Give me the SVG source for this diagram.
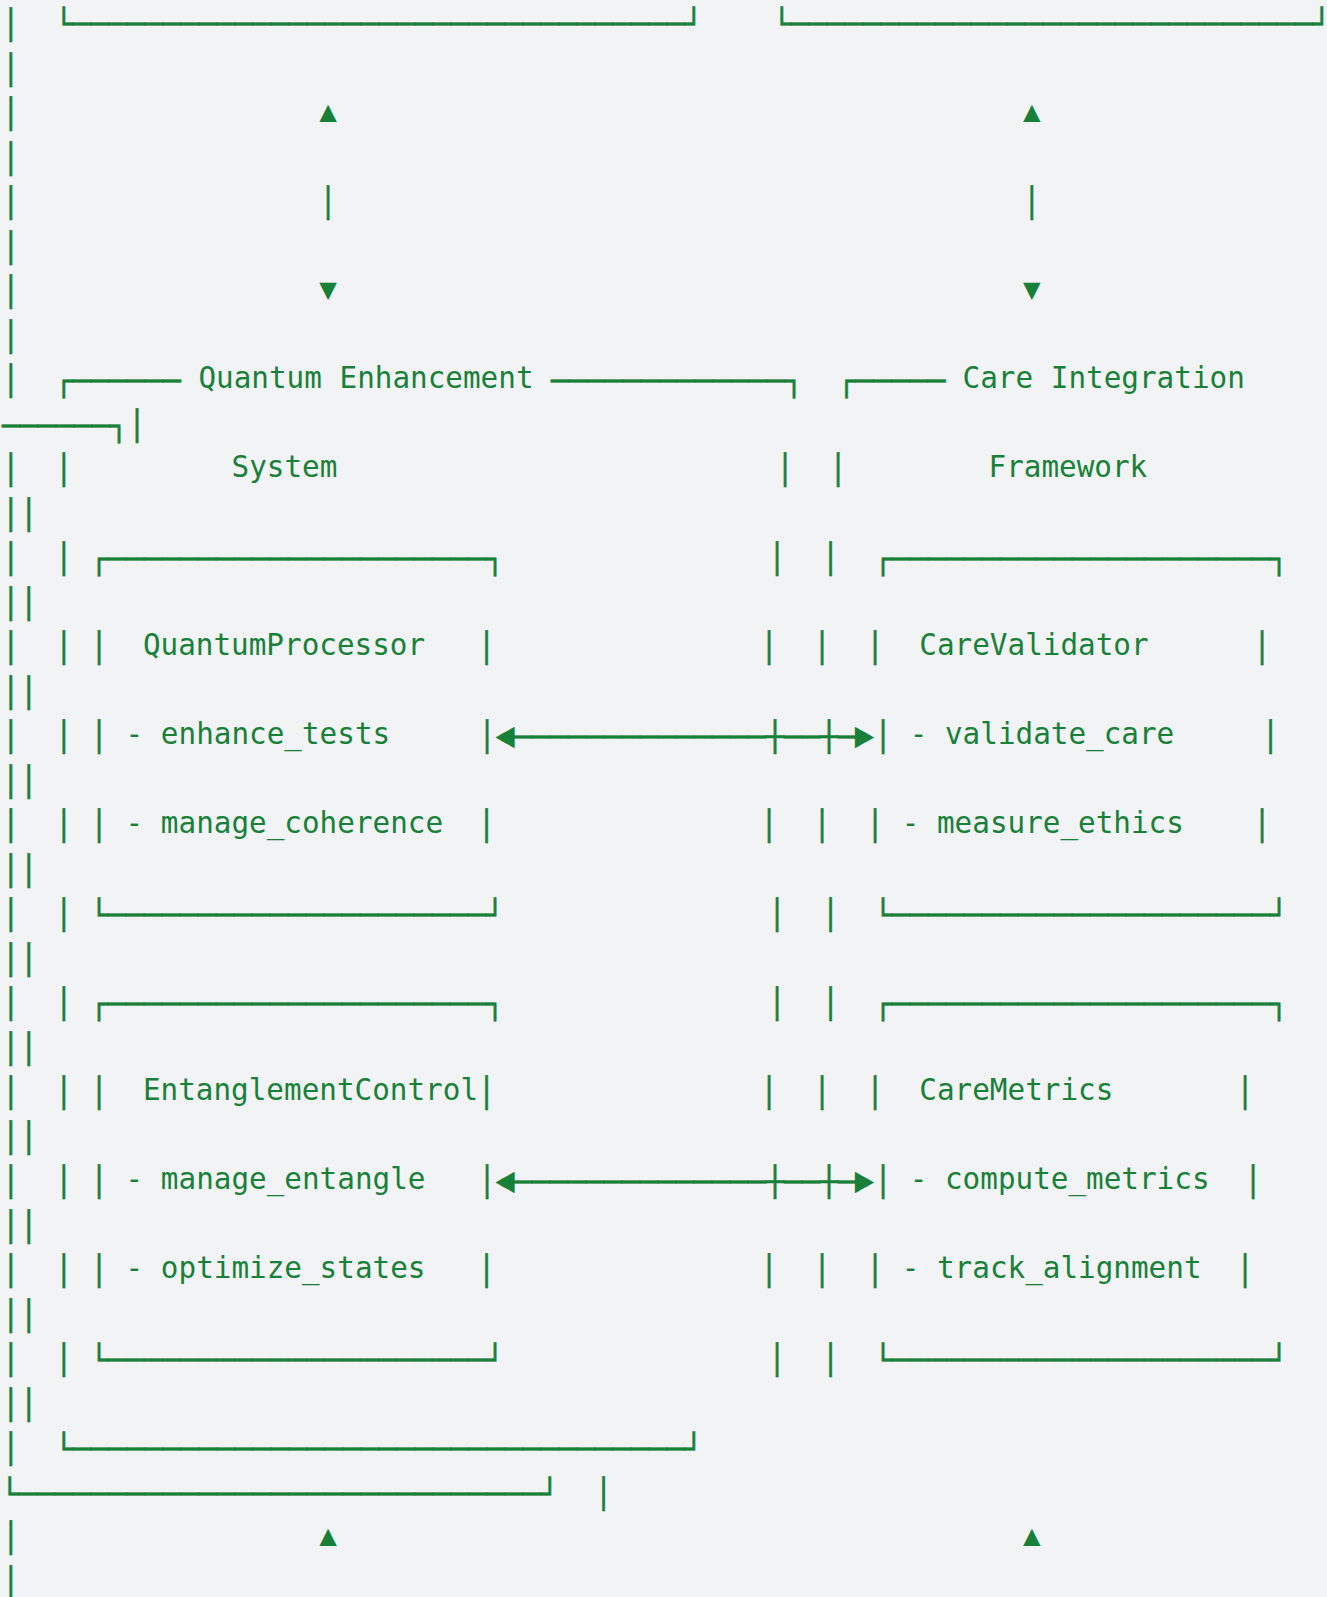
<svg xmlns="http://www.w3.org/2000/svg" width="1327" height="1597" viewBox="0 0 1327 1597">
<style>
text{font-family:"DejaVu Sans Mono","Liberation Mono",monospace;font-size:29.3px;fill:#188038;white-space:pre}
.m{text-anchor:middle}
.bx{transform:translate(0px,3px);stroke:#188038;stroke-width:0.5px}
</style>
<rect width="1327" height="1597" fill="#f1f3f4"/>
<g id="outer-frame">
<text class="m bx" x="10.7" y="76.5">│</text>
<text class="m bx" x="10.7" y="121">│</text>
<text class="m bx" x="10.7" y="165.5">│</text>
<text class="m bx" x="10.7" y="210">│</text>
<text class="m bx" x="10.7" y="254.5">│</text>
<text class="m bx" x="10.7" y="299">│</text>
<text class="m bx" x="10.7" y="343.5">│</text>
<text class="m bx" x="10.7" y="388">│</text>
<text class="m bx" x="10.7" y="477">│</text>
<text class="bx" x="1.7" y="521.5" textLength="36" lengthAdjust="spacingAndGlyphs">││</text>
<text class="m bx" x="10.7" y="566">│</text>
<text class="bx" x="1.7" y="610.5" textLength="36" lengthAdjust="spacingAndGlyphs">││</text>
<text class="m bx" x="10.7" y="655">│</text>
<text class="bx" x="1.7" y="699.5" textLength="36" lengthAdjust="spacingAndGlyphs">││</text>
<text class="m bx" x="10.7" y="744">│</text>
<text class="bx" x="1.7" y="788.5" textLength="36" lengthAdjust="spacingAndGlyphs">││</text>
<text class="m bx" x="10.7" y="833">│</text>
<text class="bx" x="1.7" y="877.5" textLength="36" lengthAdjust="spacingAndGlyphs">││</text>
<text class="m bx" x="10.7" y="922">│</text>
<text class="bx" x="1.7" y="966.5" textLength="36" lengthAdjust="spacingAndGlyphs">││</text>
<text class="m bx" x="10.7" y="1011">│</text>
<text class="bx" x="1.7" y="1055.5" textLength="36" lengthAdjust="spacingAndGlyphs">││</text>
<text class="m bx" x="10.7" y="1100">│</text>
<text class="bx" x="1.7" y="1144.5" textLength="36" lengthAdjust="spacingAndGlyphs">││</text>
<text class="m bx" x="10.7" y="1189">│</text>
<text class="bx" x="1.7" y="1233.5" textLength="36" lengthAdjust="spacingAndGlyphs">││</text>
<text class="m bx" x="10.7" y="1278">│</text>
<text class="bx" x="1.7" y="1322.5" textLength="36" lengthAdjust="spacingAndGlyphs">││</text>
<text class="m bx" x="10.7" y="1367">│</text>
<text class="bx" x="1.7" y="1411.5" textLength="36" lengthAdjust="spacingAndGlyphs">││</text>
<text class="m bx" x="10.7" y="1456">│</text>
<text class="bx" x="0.8" y="1500.5" textLength="558" lengthAdjust="spacingAndGlyphs">└─────────────────────────────┘</text>
<text class="m bx" x="603.6" y="1500.5">│</text>
<text class="m bx" x="10.7" y="1545">│</text>
<text class="m bx" x="10.7" y="1589.5">│</text>
</g>
<g id="top-left-box">
<text class="m bx" x="10.7" y="32">│</text>
<text class="bx" x="54.8" y="31" textLength="648" lengthAdjust="spacingAndGlyphs">└──────────────────────────────────┘</text>
</g>
<g id="top-right-box">
<text class="bx" x="772.7" y="31" textLength="558" lengthAdjust="spacingAndGlyphs">└─────────────────────────────┘</text>
</g>
<g id="quantum-enhancement-system">
<text class="bx" x="54.8" y="388" textLength="126" lengthAdjust="spacingAndGlyphs">┌──────</text>
<text x="198.4" y="388">Quantum Enhancement</text>
<text class="bx" x="551" y="388" textLength="252" lengthAdjust="spacingAndGlyphs">─────────────┐</text>
<text class="bx" x="2" y="432.5" textLength="144" lengthAdjust="spacingAndGlyphs">──────┐│</text>
<text class="m bx" x="63.8" y="477">│</text>
<text x="231.5" y="477">System</text>
<text class="m bx" x="785" y="477">│</text>
<text class="m bx" x="63.8" y="566">│</text>
<text class="m bx" x="777" y="566">│</text>
<text class="m bx" x="63.8" y="655">│</text>
<text class="m bx" x="769" y="655">│</text>
<text class="m bx" x="63.8" y="744">│</text>
<text class="m bx" x="63.8" y="833">│</text>
<text class="m bx" x="769" y="833">│</text>
<text class="m bx" x="63.8" y="922">│</text>
<text class="m bx" x="777" y="922">│</text>
<text class="m bx" x="63.8" y="1011">│</text>
<text class="m bx" x="777" y="1011">│</text>
<text class="m bx" x="63.8" y="1100">│</text>
<text class="m bx" x="769" y="1100">│</text>
<text class="m bx" x="63.8" y="1189">│</text>
<text class="m bx" x="63.8" y="1278">│</text>
<text class="m bx" x="769" y="1278">│</text>
<text class="m bx" x="63.8" y="1367">│</text>
<text class="m bx" x="777" y="1367">│</text>
<text class="bx" x="54.8" y="1456" textLength="648" lengthAdjust="spacingAndGlyphs">└──────────────────────────────────┘</text>
</g>
<g id="care-integration-framework">
<text class="bx" x="837.5" y="388" textLength="108" lengthAdjust="spacingAndGlyphs">┌─────</text>
<text x="962.6" y="388">Care Integration</text>
<text class="m bx" x="838" y="477">│</text>
<text x="988.5" y="477">Framework</text>
<text class="m bx" x="830.5" y="566">│</text>
<text class="m bx" x="822" y="655">│</text>
<text class="m bx" x="822" y="833">│</text>
<text class="m bx" x="830.5" y="922">│</text>
<text class="m bx" x="830.5" y="1011">│</text>
<text class="m bx" x="822" y="1100">│</text>
<text class="m bx" x="822" y="1278">│</text>
<text class="m bx" x="830.5" y="1367">│</text>
</g>
<g id="quantum-processor">
<text class="bx" x="90" y="566" textLength="414" lengthAdjust="spacingAndGlyphs">┌─────────────────────┐</text>
<text class="m bx" x="99" y="655">│</text>
<text x="142.9" y="655">QuantumProcessor</text>
<text class="m bx" x="486.6" y="655">│</text>
<text class="m bx" x="99" y="744">│</text>
<text x="125.6" y="744">- enhance_tests</text>
<text class="m bx" x="487" y="744">│</text>
<text class="m bx" x="99" y="833">│</text>
<text x="125.6" y="833">- manage_coherence</text>
<text class="m bx" x="486.6" y="833">│</text>
<text class="bx" x="90" y="922" textLength="414" lengthAdjust="spacingAndGlyphs">└─────────────────────┘</text>
</g>
<g id="entanglement-control">
<text class="bx" x="90" y="1011" textLength="414" lengthAdjust="spacingAndGlyphs">┌─────────────────────┐</text>
<text class="m bx" x="99" y="1100">│</text>
<text x="142.9" y="1100">EntanglementControl</text>
<text class="m bx" x="486.6" y="1100">│</text>
<text class="m bx" x="99" y="1189">│</text>
<text x="125.6" y="1189">- manage_entangle</text>
<text class="m bx" x="487" y="1189">│</text>
<text class="m bx" x="99" y="1278">│</text>
<text x="125.6" y="1278">- optimize_states</text>
<text class="m bx" x="486.6" y="1278">│</text>
<text class="bx" x="90" y="1367" textLength="414" lengthAdjust="spacingAndGlyphs">└─────────────────────┘</text>
</g>
<g id="care-validator">
<text class="bx" x="874" y="566" textLength="414" lengthAdjust="spacingAndGlyphs">┌─────────────────────┐</text>
<text class="m bx" x="875" y="655">│</text>
<text x="919.3" y="655">CareValidator</text>
<text class="m bx" x="1262" y="655">│</text>
<text class="m bx" x="883" y="744">│</text>
<text x="909.7" y="744">- validate_care</text>
<text class="m bx" x="1270.5" y="744">│</text>
<text class="m bx" x="875" y="833">│</text>
<text x="901.7" y="833">- measure_ethics</text>
<text class="m bx" x="1262" y="833">│</text>
<text class="bx" x="874" y="922" textLength="414" lengthAdjust="spacingAndGlyphs">└─────────────────────┘</text>
</g>
<g id="care-metrics">
<text class="bx" x="874" y="1011" textLength="414" lengthAdjust="spacingAndGlyphs">┌─────────────────────┐</text>
<text class="m bx" x="875" y="1100">│</text>
<text x="919.3" y="1100">CareMetrics</text>
<text class="m bx" x="1245" y="1100">│</text>
<text class="m bx" x="883" y="1189">│</text>
<text x="909.7" y="1189">- compute_metrics</text>
<text class="m bx" x="1253" y="1189">│</text>
<text class="m bx" x="875" y="1278">│</text>
<text x="901.7" y="1278">- track_alignment</text>
<text class="m bx" x="1245" y="1278">│</text>
<text class="bx" x="874" y="1367" textLength="414" lengthAdjust="spacingAndGlyphs">└─────────────────────┘</text>
</g>
<g id="connectors">
<text class="m" x="328" y="121">▲</text>
<text class="m bx" x="328" y="210">│</text>
<text class="m" x="328" y="299">▼</text>
<text class="m" x="1031.7" y="121">▲</text>
<text class="m bx" x="1031.7" y="210">│</text>
<text class="m" x="1031.7" y="299">▼</text>
<text class="m" transform="translate(505 735.5) scale(1.1 1.9)" y="8.6">◄</text>
<text class="bx" x="514" y="744" textLength="342" lengthAdjust="spacingAndGlyphs">──────────────┼──┼─</text>
<text class="m" transform="translate(864.5 735.5) scale(1.1 1.9)" y="8.6">►</text>
<text class="m" transform="translate(505 1180.5) scale(1.1 1.9)" y="8.6">◄</text>
<text class="bx" x="514" y="1189" textLength="342" lengthAdjust="spacingAndGlyphs">──────────────┼──┼─</text>
<text class="m" transform="translate(864.5 1180.5) scale(1.1 1.9)" y="8.6">►</text>
<text class="m" x="328" y="1545">▲</text>
<text class="m" x="1031.7" y="1545">▲</text>
</g>
</svg>
